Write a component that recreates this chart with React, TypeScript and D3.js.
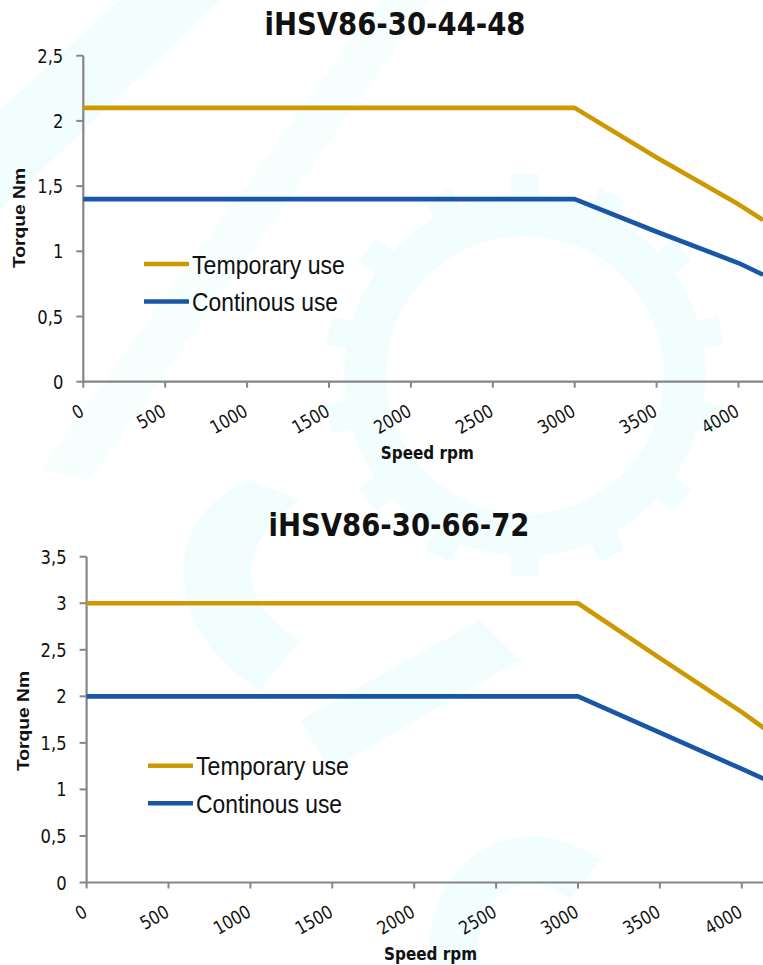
import React from "react";
import * as d3 from "d3";

// values
const titles = ["iHSV86-30-44-48", "iHSV86-30-66-72"];
const seriesNames = ["Temporary use", "Continous use"];
const speeds = [0, 3000, 3500, 4000, 4150];
const temporary1 = [2.1, 2.1, 1.72, 1.36, 1.24];
const continous1 = [1.4, 1.4, 1.15, 0.91, 0.82];
const temporary2 = [3, 3, 2.41, 1.83, 1.64];
const continous2 = [2, 2, 1.61, 1.22, 1.1];
const xTicks = [0, 500, 1000, 1500, 2000, 2500, 3000, 3500, 4000];
const yTicks1 = [0, 0.5, 1, 1.5, 2, 2.5];
const yTicks2 = [0, 0.5, 1, 1.5, 2, 2.5, 3, 3.5];

const W = 763;
const H = 965;
const PX_PER_RPM = 0.1638;
const colors = ["#cc9900", "#1957a6"];
const axisColor = "#868686";
const wm = "#f2fefe";

const commaFmt = d3
  .formatLocale({ decimal: ",", thousands: ".", grouping: [3], currency: ["", ""] })
  .format(".1~f");

const sans = "'DejaVu Sans', sans-serif";
const arial = "'Liberation Sans', Arial, sans-serif";

function Gear({ cx, cy, r, w }: { cx: number; cy: number; r: number; w: number }) {
  const ring = d3.arc()({ innerRadius: r - w / 2, outerRadius: r + w / 2, startAngle: 0, endAngle: Math.PI * 2 } as any);
  const teeth = d3.range(14).map((i) => (i * 360) / 14);
  return (
    <g transform={`translate(${cx},${cy})`} fill={wm}>
      <path d={ring || ""} />
      {teeth.map((a) => (
        <rect key={a} x={-14} y={-(r + w / 2 + 20)} width={28} height={28} transform={`rotate(${a})`} />
      ))}
    </g>
  );
}

type ChartProps = {
  title: string;
  titleX: number;
  titleY: number;
  x0: number;
  y0: number;
  yTop: number;
  yMax: number;
  yTicks: number[];
  series: number[][];
  legendX: number;
  legendY: number;
  yLabelY: number;
};

function Chart(p: ChartProps) {
  const x = d3.scaleLinear().domain([0, 4500]).range([p.x0, p.x0 + 4500 * PX_PER_RPM]);
  const y = d3.scaleLinear().domain([0, p.yMax]).range([p.y0, p.yTop]);
  const line = d3
    .line<[number, number]>()
    .x((d) => x(d[0]))
    .y((d) => y(d[1]));

  return (
    <g>
      <text
        x={p.titleX}
        y={p.titleY}
        textAnchor="middle"
        fontFamily={sans}
        fontWeight="bold"
        fontSize={32}
        textLength={261}
        lengthAdjust="spacingAndGlyphs"
        fill="#111"
      >
        {p.title}
      </text>

      {/* y axis */}
      <line x1={p.x0} x2={p.x0} y1={y(p.yMax)} y2={p.y0} stroke={axisColor} strokeWidth={2.2} />
      {p.yTicks.map((t) => (
        <g key={t}>
          <line x1={p.x0 - 7} x2={p.x0} y1={y(t)} y2={y(t)} stroke={axisColor} strokeWidth={2} />
          <text
            transform={`translate(${p.x0 - 20},${y(t)}) scale(0.84,1)`}
            dy="0.36em"
            textAnchor="end"
            fontFamily={sans}
            fontSize={19.5}
            fill="#111"
          >
            {commaFmt(t)}
          </text>
        </g>
      ))}
      <text
        transform={`translate(${p.x0 - 58},${p.yLabelY}) rotate(-90)`}
        textAnchor="middle"
        fontFamily={arial}
        fontWeight="bold"
        fontSize={16}
        textLength={100}
        lengthAdjust="spacingAndGlyphs"
        fill="#111"
      >
        Torque Nm
      </text>

      {/* x axis */}
      <line x1={p.x0} x2={W} y1={p.y0} y2={p.y0} stroke={axisColor} strokeWidth={2.2} />
      {xTicks.map((t) => (
        <g key={t}>
          <line x1={x(t)} x2={x(t)} y1={p.y0} y2={p.y0 + 6} stroke={axisColor} strokeWidth={2} />
          <text
            transform={`translate(${x(t) + 2},${p.y0 + 33}) rotate(-30) scale(0.84,1)`}
            textAnchor="end"
            fontFamily={sans}
            fontSize={18.5}
            fill="#111"
          >
            {d3.format("d")(t)}
          </text>
        </g>
      ))}
      <text
        x={x(2100)}
        y={p.y0 + 77}
        textAnchor="middle"
        fontFamily={sans}
        fontWeight="bold"
        fontSize={17}
        textLength={93}
        lengthAdjust="spacingAndGlyphs"
        fill="#111"
      >
        Speed rpm
      </text>

      {/* series */}
      {p.series.map((vals, i) => (
        <path
          key={i}
          d={line(speeds.map((s, j) => [s, vals[j]] as [number, number])) || ""}
          fill="none"
          stroke={colors[i]}
          strokeWidth={4.6}
          strokeLinejoin="round"
        />
      ))}

      {/* legend */}
      {seriesNames.map((n, i) => (
        <g key={n} transform={`translate(${p.legendX},${p.legendY + i * 37.5})`}>
          <line x1={0} x2={45} y1={0} y2={0} stroke={colors[i]} strokeWidth={4.6} />
          <text
            x={48}
            y={9.5}
            fontFamily={arial}
            fontSize={25}
            textLength={i === 0 ? 153 : 146}
            lengthAdjust="spacingAndGlyphs"
            fill="#111"
          >
            {n}
          </text>
        </g>
      ))}
    </g>
  );
}

export default function App() {
  return (
    <svg
      width={W}
      height={H}
      style={{ position: "absolute", left: 0, top: 0, background: "#fff" }}
    >
      {/* faint watermark */}
      <g>
        <polygon points="0,110 120,0 220,0 0,210" fill={wm} />
        <polygon points="40,470 380,0 430,0 90,480" fill={wm} opacity={0.6} />
        <Gear cx={525} cy={375} r={160} w={42} />
        <path d="M 250 480 C 150 520, 170 640, 260 690 L 300 640 C 230 600, 240 540, 300 500 Z" fill={wm} />
        <polygon points="300,720 480,620 520,660 330,770" fill={wm} />
        <path d="M 430 965 C 420 860, 520 800, 600 860 L 570 900 C 520 860, 470 900, 480 965 Z" fill={wm} />
      </g>
      <Chart
        title={titles[0]}
        titleX={395}
        titleY={35}
        x0={83.3}
        y0={381.7}
        yTop={55.7}
        yMax={2.5}
        yTicks={yTicks1}
        series={[temporary1, continous1]}
        legendX={144}
        legendY={264}
        yLabelY={218}
      />
      <Chart
        title={titles[1]}
        titleX={399}
        titleY={536}
        x0={86.6}
        y0={882.5}
        yTop={556.7}
        yMax={3.5}
        yTicks={yTicks2}
        series={[temporary2, continous2]}
        legendX={148}
        legendY={765.7}
        yLabelY={721}
      />
    </svg>
  );
}
